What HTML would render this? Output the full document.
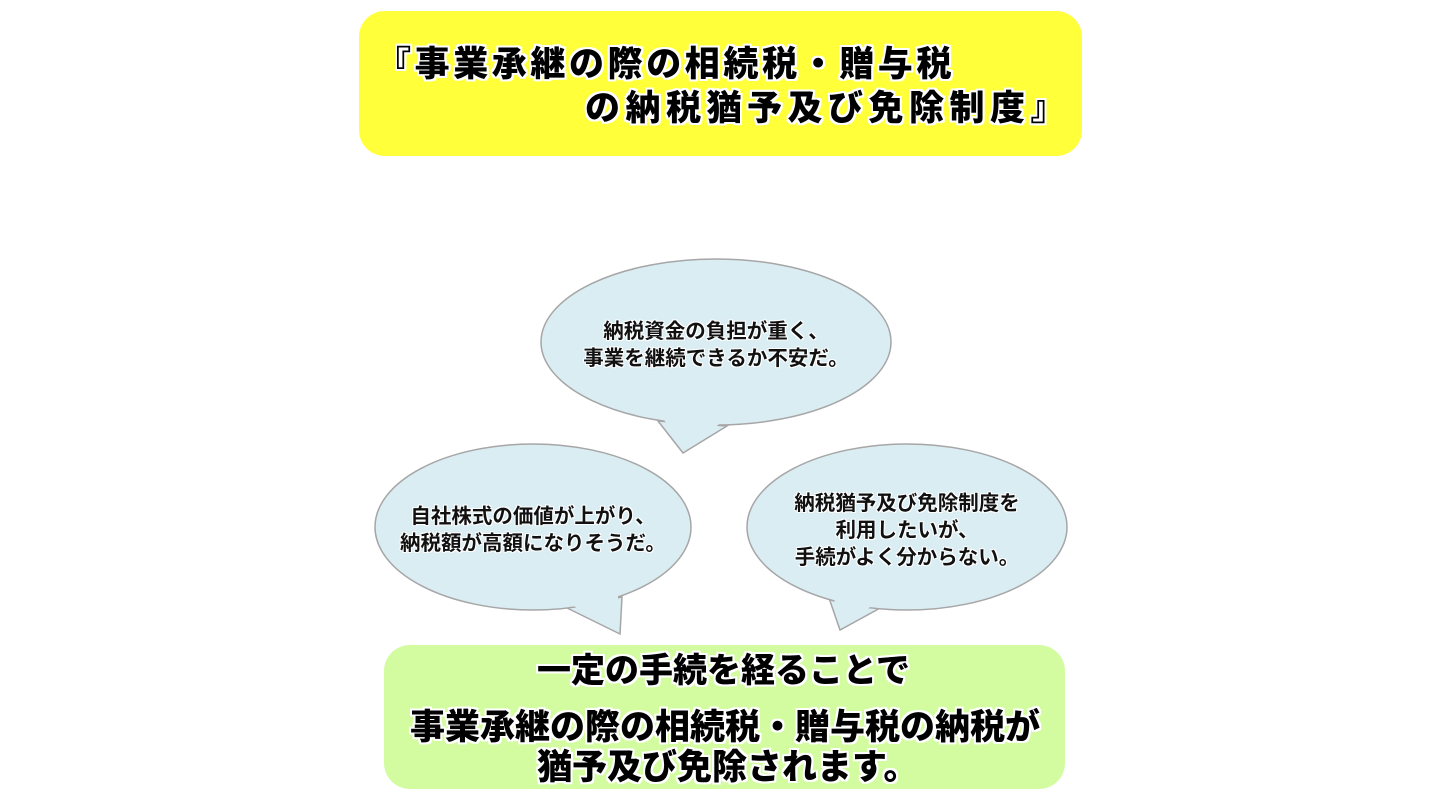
<!DOCTYPE html>
<html><head><meta charset="utf-8"><style>
html,body{margin:0;padding:0;background:#fff;}
body{width:1440px;height:810px;overflow:hidden;position:relative;font-family:"Liberation Sans","Noto Sans CJK JP",sans-serif;}
.box{position:absolute;border-radius:26px;}
.t{position:absolute;white-space:nowrap;font-family:"Noto Sans CJK JP","Liberation Sans",sans-serif;font-weight:900;color:#000;
text-shadow:2px 2px 0 #fff,-2px -2px 0 #fff,2px -2px 0 #fff,-2px 2px 0 #fff,0 2px 0 #fff,2px 0 0 #fff,0 -2px 0 #fff,-2px 0 0 #fff;line-height:1;}
.b{position:absolute;text-align:center;white-space:nowrap;font-family:"Noto Sans CJK JP","Liberation Sans",sans-serif;font-weight:700;font-size:20.5px;line-height:27px;color:#111;
text-shadow:1px 1px 0 #fff,-1px -1px 0 #fff,1px -1px 0 #fff,-1px 1px 0 #fff;}
</style></head><body>
<div class="box" style="left:359px;top:11px;width:723px;height:145px;background:#ffff3a;"></div>
<div class="t" style="left:376px;top:44px;font-size:35px;letter-spacing:3.6px;">『事業承継の際の相続税・贈与税</div>
<div class="t" style="left:585px;top:88px;font-size:35px;letter-spacing:5.5px;">の納税猶予及び免除制度』</div>

<svg width="1440" height="810" style="position:absolute;left:0;top:0">
<g fill="#daedf3" stroke="#a6a6a6" stroke-width="1.5">
<polygon points="658,421 683,453 727,426"/>
<ellipse cx="716" cy="342" rx="175" ry="83"/>
<polygon points="663,418 683,451 722,422" stroke="none"/>
<polygon points="565,607 620,634 622,597"/>
<ellipse cx="533" cy="527" rx="158" ry="83"/>
<polygon points="568,603 618,630 618,596" stroke="none"/>
<polygon points="829,598 840,630 882,607"/>
<ellipse cx="907" cy="527" rx="160" ry="83"/>
<polygon points="833,594 840,625 877,603" stroke="none"/>
</g>
</svg>
<div class="b" style="left:541px;top:316px;width:350px;">納税資金の負担が重く、<br>事業を継続できるか不安だ。</div>
<div class="b" style="left:375px;top:501px;width:316px;">自社株式の価値が上がり、<br>納税額が高額になりそうだ。</div>
<div class="b" style="left:747px;top:488px;width:320px;">納税猶予及び免除制度を<br>利用したいが、<br>手続がよく分からない。</div>

<div class="box" style="left:384px;top:645px;width:681px;height:144px;background:#d3fca0;"></div>
<div class="t" style="left:537px;top:651px;font-size:34px;">一定の手続を経ることで</div>
<div class="t" style="left:410px;top:707px;font-size:35px;">事業承継の際の相続税・贈与税の納税が</div>
<div class="t" style="left:537px;top:747px;font-size:35px;">猶予及び免除されます。</div>
</body></html>
